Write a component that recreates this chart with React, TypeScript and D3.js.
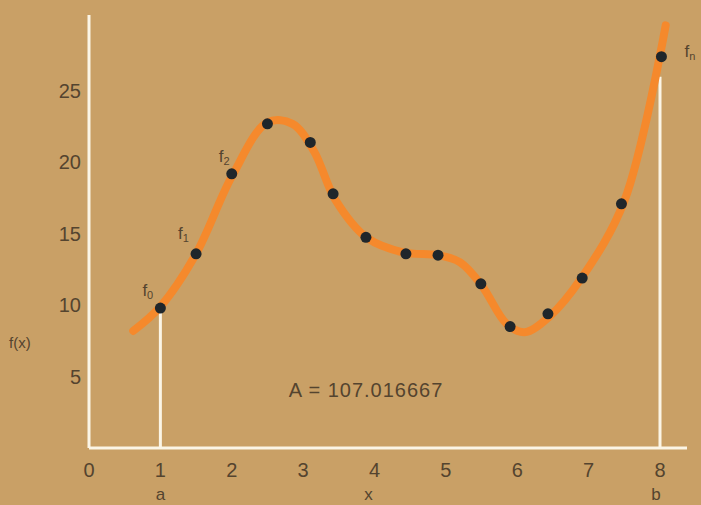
import React from "react";
import * as d3 from "d3";

const xTicks = [0, 1, 2, 3, 4, 5, 6, 7, 8];
const yTicks = [5, 10, 15, 20, 25];
const sampleX = [1.0, 1.5, 2.0, 2.5, 3.1, 3.42, 3.88, 4.44, 4.89, 5.49, 5.9, 6.43, 6.91, 7.46, 8.02];
const sampleY = [9.8, 13.6, 19.2, 22.7, 21.4, 17.8, 14.75, 13.6, 13.5, 11.5, 8.5, 9.4, 11.9, 17.1, 27.4];
const curveX = [0.62, 1.0, 1.5, 2.0, 2.5, 2.85, 3.15, 3.45, 3.9, 4.4, 4.9, 5.2, 5.5, 5.85, 6.1, 6.45, 6.9, 7.5, 8.08];
const curveY = [8.2, 9.9, 13.6, 19.0, 22.8, 22.7, 20.8, 17.4, 14.7, 13.7, 13.5, 13.0, 11.4, 8.7, 8.1, 9.2, 11.9, 17.3, 29.6];
const pointLabels = [
  { x: 1.0, y: 9.8, base: "f", sub: "0" },
  { x: 1.5, y: 13.6, base: "f", sub: "1" },
  { x: 2.0, y: 19.2, base: "f", sub: "2" },
  { x: 8.02, y: 27.4, base: "f", sub: "n" },
];
const areaText = "A = 107.016667";
const a = 1;
const b = 8;
const fa = 9.8;
const fb = 26.0;

export default function App() {
  const W = 701, H = 505;
  const x = d3.scaleLinear().domain([0, 8]).range([89, 660]);
  const y = d3.scaleLinear().domain([0, 25]).range([448, 91]);
  const line = d3
    .line<number>()
    .x((_, i) => x(curveX[i]))
    .y((_, i) => y(curveY[i]))
    .curve(d3.curveCatmullRom.alpha(0.5));
  const bg = "#c9a066";
  const white = "#fbf5e6";
  const txt = "#54442f";
  const font = "Liberation Sans, Arial, sans-serif";
  const labelOffsets = [
    { dx: -18, dy: -12 },
    { dx: -18, dy: -15 },
    { dx: -13, dy: -12 },
    { dx: 23, dy: 0 },
  ];
  return (
    <div style={{ position: "fixed", left: 0, top: 0 }}>
      <svg width={W} height={H} style={{ display: "block" }}>
        <rect x={0} y={0} width={W} height={H} fill={bg} />
        <line x1={x(0)} x2={x(0)} y1={15} y2={y(0)} stroke={white} strokeWidth={3} />
        <line x1={x(0)} x2={687} y1={y(0)} y2={y(0)} stroke={white} strokeWidth={3} />
        <line x1={x(a)} x2={x(a)} y1={y(fa)} y2={y(0)} stroke={white} strokeWidth={3} />
        <line x1={x(b)} x2={x(b)} y1={y(fb)} y2={y(0)} stroke={white} strokeWidth={3} />
        <path d={line(curveX) || ""} fill="none" stroke="#f5892c" strokeWidth={8} strokeLinecap="round" strokeLinejoin="round" />
        {sampleX.map((v, i) => (
          <circle key={i} cx={x(v)} cy={y(sampleY[i])} r={5.5} fill="#1f262b" />
        ))}
        {pointLabels.map((p, i) => (
          <text key={i} x={x(p.x) + labelOffsets[i].dx} y={y(p.y) + labelOffsets[i].dy} fontFamily={font} fontSize={17} fill={txt} textAnchor="start">
            {p.base}
            <tspan fontSize={11} dy={3}>{p.sub}</tspan>
          </text>
        ))}
        {xTicks.map((t) => (
          <text key={t} x={x(t)} y={477} textAnchor="middle" fontFamily={font} fontSize={20} fill={txt}>
            {t}
          </text>
        ))}
        {yTicks.map((t) => (
          <text key={t} x={81} y={y(t) + 7} textAnchor="end" fontFamily={font} fontSize={20} fill={txt}>
            {t}
          </text>
        ))}
        <text x={x(a)} y={500} textAnchor="middle" fontFamily={font} fontSize={17} fill={txt}>a</text>
        <text x={x(4) - 6} y={500} textAnchor="middle" fontFamily={font} fontSize={17} fill={txt}>x</text>
        <text x={x(b) - 4} y={500} textAnchor="middle" fontFamily={font} fontSize={17} fill={txt}>b</text>
        <text x={9} y={348} fontFamily={font} fontSize={15} fill={txt}>f(x)</text>
        <text x={366} y={397} textAnchor="middle" fontFamily={font} fontSize={20} letterSpacing={1} fill={txt}>{areaText}</text>
      </svg>
    </div>
  );
}
